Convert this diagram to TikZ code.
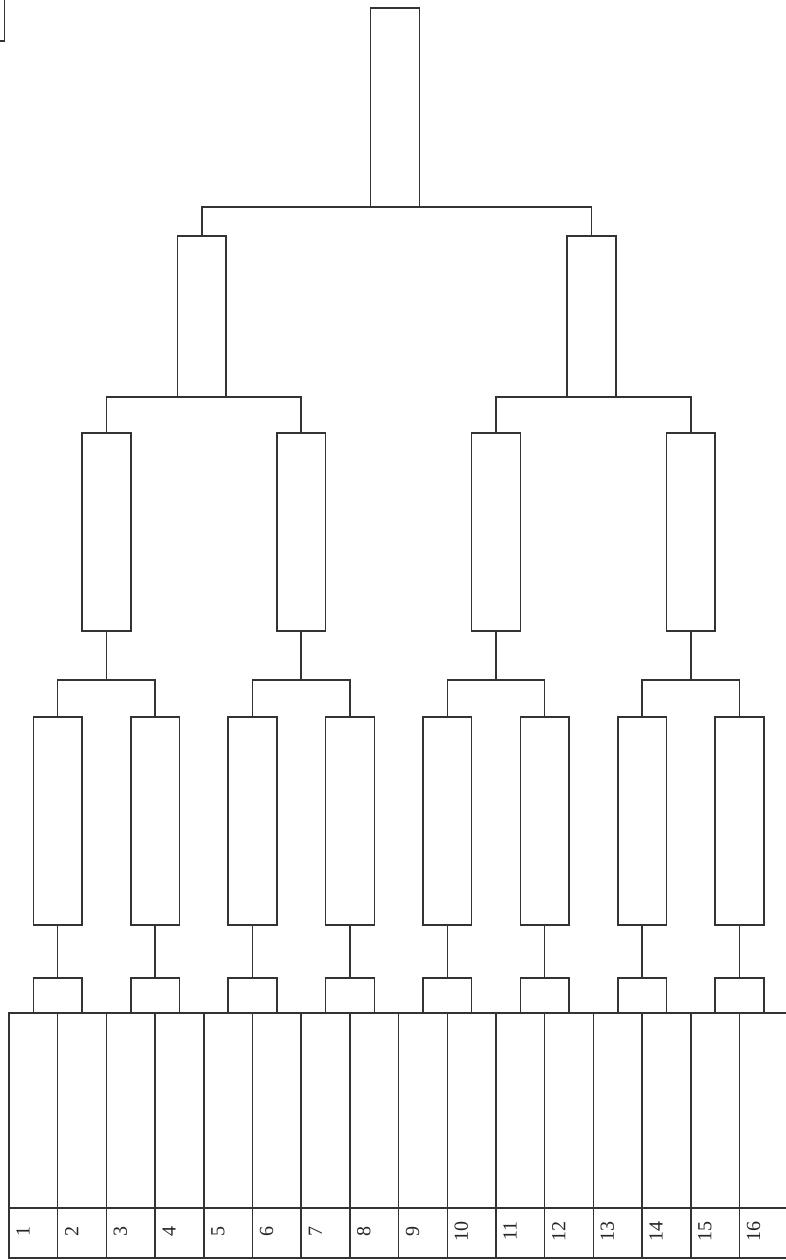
\documentclass[tikz,border=0pt]{standalone}
\usepackage{fontspec}
\setmainfont{Liberation Serif}
\begin{document}
\begin{tikzpicture}[x=1pt,y=-1pt,
  ln/.style={line width=1.5pt, draw=black!80},
  bx/.style={ln, rectangle, inner sep=0pt, outer sep=0pt, minimum width=48.7pt},
  num/.style={font=\fontsize{20}{20}\selectfont, rotate=90, inner sep=0pt, text=black!85}]
\useasboundingbox (0,0) rectangle (785,1260);

% corner mark top-left
\draw[ln] (-2,41) -- (4.3,41) -- (4.3,-2);

% round 1 small boxes and round 2 boxes
\foreach \i in {1,...,8} {
  \node[bx, minimum height=35pt]  (s\i) at ({9+(2*\i-1)*48.7}, 995.5) {};
  \node[bx, minimum height=208pt] (b\i) at ({9+(2*\i-1)*48.7}, 821) {};
  \draw[ln] (s\i.north) -- (b\i.south);
}
% round 3 boxes
\foreach \j in {1,...,4} {
  \node[bx, minimum height=198pt] (c\j) at ({9+(4*\j-2)*48.7}, 532) {};
}
% round 4 boxes
\node[bx, minimum height=161pt] (d1) at ({9+4*48.7-2}, 316.5) {};
\node[bx, minimum height=161pt] (d2) at ({9+12*48.7-2}, 316.5) {};
% top box
\node[bx, minimum height=199pt] (t) at (395, 107.5) {};

% forks round 2 -> round 3
\foreach \j in {1,...,4} {
  \pgfmathtruncatemacro\ja{2*\j-1}
  \pgfmathtruncatemacro\jb{2*\j}
  \draw[ln] (c\j.south) -- ++(0,49) coordinate (k\j);
  \draw[ln] (b\ja.north) |- (k\j) -| (b\jb.north);
}
% forks round 3 -> round 4
\draw[ln] (c1.north) |- (d1.south) -| (c2.north);
\draw[ln] (c3.north) |- (d2.south) -| (c4.north);
% fork round 4 -> top
\draw[ln] (d1.north) |- (t.south) -| (d2.north);

% table
\draw[ln] (9,1013) rectangle (788.2,1258);
\draw[ln] (9,1208) -- (788.2,1208);
\foreach \k in {1,...,15} \draw[ln] ({9+\k*48.7},1013) -- ({9+\k*48.7},1258);
\foreach \k in {1,...,16} \node[num] (n\k) at ({9+(\k-1)*48.7+14},1231) {\k};
\end{tikzpicture}
\end{document}
